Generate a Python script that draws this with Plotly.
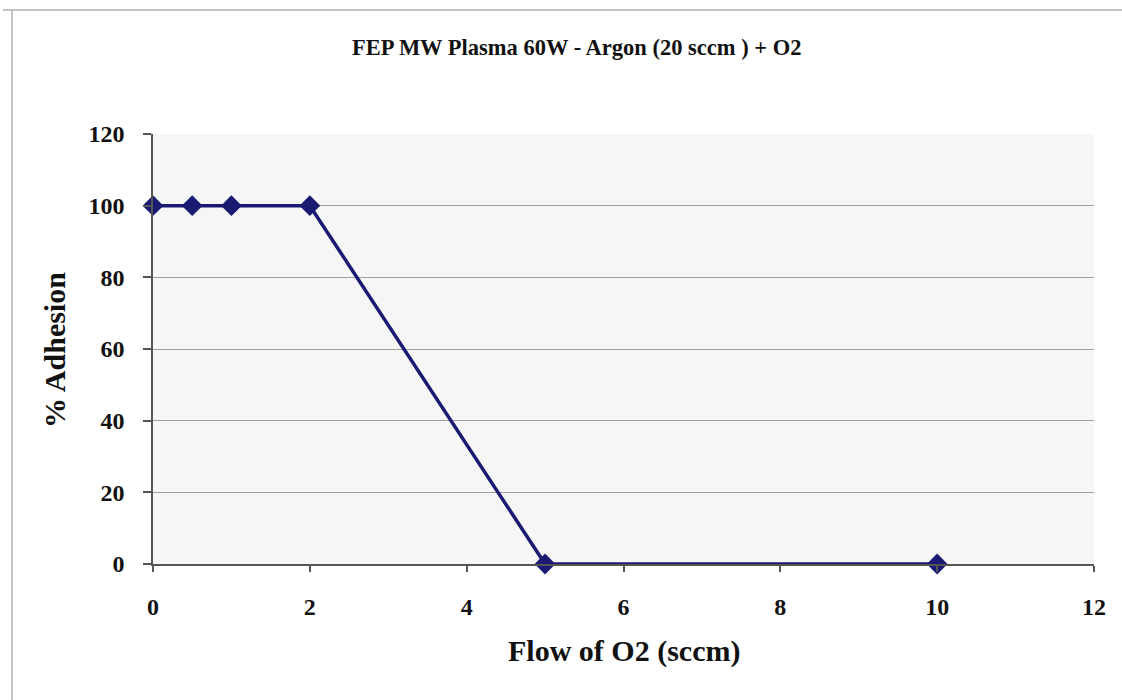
import plotly.graph_objects as go

# O2 flow added to the argon plasma (sccm) and resulting adhesion (%)
o2_flow = [0, 0.5, 1, 2, 5, 10]
adhesion = [100, 100, 100, 100, 0, 0]

x_ticks = [0, 2, 4, 6, 8, 10, 12]
y_ticks = [0, 20, 40, 60, 80, 100, 120]

title_text = "FEP MW Plasma 60W - Argon (20 sccm ) + O2"
x_title = "Flow of O2 (sccm)"
y_title = "% Adhesion"

FONT = "Liberation Serif"
NAVY = "#1a1a72"
INK = "#111111"

L, R, T, B = 153, 28, 134, 136
W, H = 1122, 700
pw, ph = W - L - R, H - T - B


def px(x):
    return (x - L) / pw


def py(y):
    return (H - B - y) / ph


fig = go.Figure()
fig.add_trace(go.Scatter(
    x=o2_flow, y=adhesion, mode="lines+markers",
    line=dict(color=NAVY, width=3.5),
    marker=dict(symbol="diamond", size=16, color=NAVY),
    cliponaxis=False, showlegend=False,
))

axis_common = dict(
    showline=True, linecolor="#555555", linewidth=1.5, mirror=False,
    ticks="outside", tickcolor="#555555", tickwidth=1.5,
    tickfont=dict(family=FONT, size=24, color=INK, weight="bold"),
    zeroline=False,
)

fig.update_xaxes(
    range=[0, 12], tickvals=x_ticks, ticklen=6, showgrid=False,
    ticklabelstandoff=14, **axis_common,
)
fig.update_yaxes(
    range=[0, 120], tickvals=y_ticks, ticklen=8, showgrid=True,
    gridcolor="#a0a0a0", gridwidth=1, ticklabelstandoff=14, **axis_common,
)

annotations = [
    dict(text=f"<b>{title_text}</b>", x=px(576), y=py(47), xref="paper", yref="paper",
         showarrow=False, font=dict(family=FONT, size=22.5, color=INK),
         xanchor="center", yanchor="middle"),
    dict(text=f"<b>{x_title}</b>", x=px(624), y=py(651), xref="paper", yref="paper",
         showarrow=False, font=dict(family=FONT, size=30, color=INK),
         xanchor="center", yanchor="middle"),
    dict(text=f"<b>{y_title}</b>", x=px(54), y=py(350), xref="paper", yref="paper",
         showarrow=False, textangle=-90, font=dict(family=FONT, size=30, color=INK),
         xanchor="center", yanchor="middle"),
]

# faint chart-area frame along the top and left edges
shapes = [
    dict(type="line", xref="paper", yref="paper", x0=px(3), x1=px(1122), y0=py(10), y1=py(10),
         line=dict(color="#b0b0b0", width=1.5)),
    dict(type="line", xref="paper", yref="paper", x0=px(12), x1=px(12), y0=py(10), y1=py(700),
         line=dict(color="#b0b0b0", width=1.5)),
]

fig.update_layout(
    width=W, height=H,
    margin=dict(l=L, r=R, t=T, b=B),
    paper_bgcolor="white", plot_bgcolor="#f6f6f6",
    annotations=annotations, shapes=shapes,
    font=dict(family=FONT),
)

fig.write_html("out.html")
